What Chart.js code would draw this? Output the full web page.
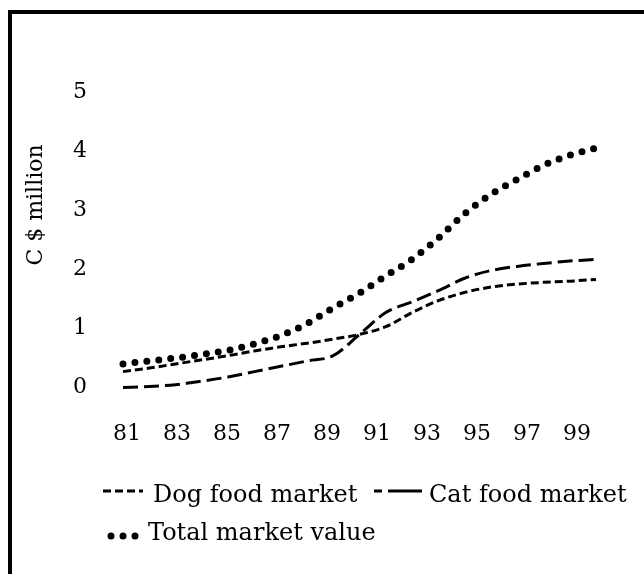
<!DOCTYPE html>
<html>
<head>
<meta charset="utf-8">
<script src="https://cdn.jsdelivr.net/npm/chart.js@4.4.1/dist/chart.umd.min.js"></script>
<style>
  html, body { margin: 0; padding: 0; background: #fff; }
  #cadre {
    position: absolute; left: 8px; top: 10px;
    width: 700px; height: 600px;
    border-top: 4px solid #000; border-left: 4px solid #000;
  }
  #graphique { position: absolute; left: 0; top: 0; }
</style>
</head>
<body>
<div id="cadre"></div>
<canvas id="graphique" width="644" height="574"></canvas>
<script>
// Données (C $ million)
const annees = [81,82,83,84,85,86,87,88,89,90,91,92,93,94,95,96,97,98,99];
const chien = [0.27,0.33,0.40,0.47,0.54,0.62,0.69,0.75,0.82,0.90,1.03,1.27,1.47,1.61,1.70,1.75,1.78,1.80,1.83];
const chat  = [0.00,0.02,0.05,0.11,0.18,0.27,0.36,0.45,0.54,0.90,1.27,1.45,1.64,1.85,1.98,2.05,2.10,2.14,2.17];
const total = [0.40,0.45,0.50,0.56,0.63,0.74,0.88,1.08,1.35,1.60,1.89,2.17,2.53,2.94,3.27,3.52,3.76,3.93,4.05];
const etiquettesX = ['81','83','85','87','89','91','93','95','97','99'];
const etiquettesY = ['0','1','2','3','4','5'];
const titreY = 'C $ million';
const noms = ['Dog food market', 'Cat food market', 'Total market value'];

const police = '"DejaVu Serif", serif';

// Sur l'original la rangée d'années est un peu plus serrée que les courbes
const serrageEtiquettes = 0.9515;
const decalageEtiquettes = 0.15;

const points = serie => serie.map((v, i) => ({ x: annees[i], y: v }));

// Légende dessinée à la main, comme sur l'original
const legendePapier = {
    id: 'legendePapier',
    afterDraw(chart) {
        const ctx = chart.ctx;
        ctx.save();
        ctx.fillStyle = '#000';
        ctx.strokeStyle = '#000';
        ctx.font = '22px ' + police;

        // titre de l'axe vertical
        ctx.save();
        ctx.translate(36, 205);
        ctx.rotate(-Math.PI / 2);
        ctx.textAlign = 'center';
        ctx.textBaseline = 'middle';
        ctx.fillText(titreY, 0, 0);
        ctx.restore();

        ctx.font = '24px ' + police;
        const elements = [
            { x1: 103, x2: 143, y: 491, dash: [8, 4], lw: 3, cap: 'butt', tx: 153, ty: 502 },
            { x1: 374, x2: 422, y: 491, dash: [8, 6, 40, 0], lw: 3, cap: 'butt', tx: 429, ty: 502 },
            { x1: 111, x2: 136, y: 536, dash: [0, 12], lw: 7, cap: 'round', tx: 148, ty: 540 }
        ];
        elements.forEach((el, i) => {
            ctx.beginPath();
            ctx.setLineDash(el.dash);
            ctx.lineWidth = el.lw;
            ctx.lineCap = el.cap;
            ctx.moveTo(el.x1, el.y);
            ctx.lineTo(el.x2, el.y);
            ctx.stroke();
            ctx.setLineDash([]);
            ctx.textAlign = 'left';
            ctx.textBaseline = 'alphabetic';
            ctx.fillText(noms[i], el.tx, el.ty);
        });
        ctx.restore();
    }
};

const ctx = document.getElementById('graphique').getContext('2d');
new Chart(ctx, {
    type: 'line',
    data: {
        datasets: [
            { label: noms[0], data: points(chien), borderColor: '#000', borderWidth: 3, borderDash: [8, 4] },
            { label: noms[1], data: points(chat), borderColor: '#000', borderWidth: 3, borderDash: [15, 6] },
            { label: noms[2], data: points(total), borderColor: '#000', borderWidth: 7, borderDash: [0, 12], borderCapStyle: 'round' }
        ]
    },
    options: {
        responsive: false,
        animation: false,
        layout: { padding: { left: 22, top: 92, right: 48, bottom: 94 } },
        elements: {
            point: { radius: 0 },
            line: { cubicInterpolationMode: 'monotone', fill: false }
        },
        clip: false,
        plugins: {
            legend: { display: false },
            tooltip: { enabled: false }
        },
        scales: {
            x: {
                type: 'linear',
                min: annees[0],
                max: annees[annees.length - 1],
                border: { display: false },
                grid: { display: false, drawTicks: false },
                afterBuildTicks: axe => {
                    axe.ticks = etiquettesX.map(e => ({
                        value: annees[0] + (Number(e) - annees[0]) * serrageEtiquettes + decalageEtiquettes
                    }));
                },
                ticks: {
                    autoSkip: false,
                    maxRotation: 0,
                    padding: 33,
                    color: '#000',
                    font: { family: police, size: 22 },
                    callback: (v, i) => etiquettesX[i]
                }
            },
            y: {
                min: 0,
                max: 5,
                afterFit: axe => { axe.width = 101; },
                border: { display: false },
                grid: { display: false, drawTicks: false },
                ticks: {
                    stepSize: 1,
                    padding: 36,
                    color: '#000',
                    font: { family: police, size: 22 },
                    callback: v => etiquettesY[v]
                }
            }
        }
    },
    plugins: [legendePapier]
});
</script>
</body>
</html>
